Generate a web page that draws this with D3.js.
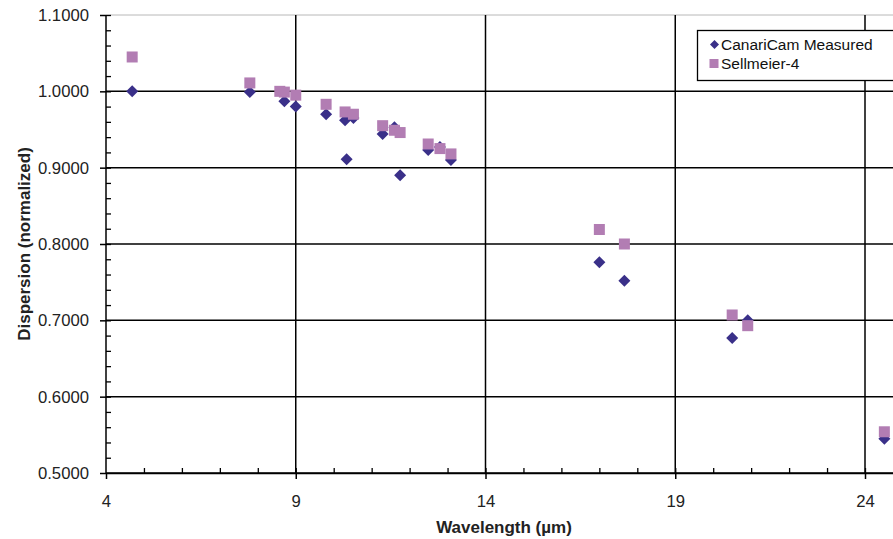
<!DOCTYPE html>
<html>
<head>
<meta charset="utf-8">
<script src="https://cdn.jsdelivr.net/npm/d3@7"></script>
<style>
  body { margin: 0; background: #fff; }
  svg { display: block; font-family: "Liberation Sans", Arial, sans-serif; }
</style>
</head>
<body>
<div id="chart"></div>
<script>
// wavelength (um) and normalized dispersion
const measuredX = [4.69, 7.79, 8.70, 9.00, 9.80, 10.30, 10.34, 10.52, 11.29, 11.60, 11.75, 12.49, 12.80, 13.09, 17.00, 17.66, 20.50, 20.91, 24.51];
const measuredY = [1.000, 0.999, 0.987, 0.980, 0.970, 0.962, 0.911, 0.965, 0.944, 0.953, 0.890, 0.923, 0.927, 0.910, 0.776, 0.752, 0.677, 0.700, 0.545];
const sellmeierX = [4.69, 7.79, 8.58, 8.70, 9.00, 9.80, 10.30, 10.52, 11.29, 11.60, 11.75, 12.49, 12.80, 13.09, 17.00, 17.66, 20.50, 20.91, 24.51];
const sellmeierY = [1.045, 1.011, 1.000, 0.999, 0.995, 0.983, 0.973, 0.970, 0.955, 0.949, 0.946, 0.931, 0.925, 0.918, 0.819, 0.800, 0.707, 0.693, 0.554];
const seriesNames = ["CanariCam Measured", "Sellmeier-4"];
const xTicks = [4, 9, 14, 19, 24];
const yTicks = [0.5, 0.6, 0.7, 0.8, 0.9, 1.0, 1.1];

const width = 893, height = 539;
const margins = {top: 15, left: 106, bottom: 66};

const svg = d3.select("#chart")
  .append("svg")
  .attr("width", width)
  .attr("height", height);

// plot area runs past the right edge of the picture
const xScale = d3.scaleLinear()
  .domain([4, 25])
  .range([margins.left, margins.left + 21 * 37.95]);

const yScale = d3.scaleLinear()
  .domain([0.5, 1.1])
  .range([height - margins.bottom, margins.top]);

const y0 = yScale(0.5), y1 = yScale(1.1);

// horizontal grid
svg.append("g")
  .selectAll("line")
  .data(yTicks)
  .join("line")
    .attr("x1", margins.left)
    .attr("x2", width)
    .attr("y1", d => yScale(d))
    .attr("y2", d => yScale(d))
    .style("stroke", d => d === 1.1 ? "#b8b8b8" : "#000")
    .style("stroke-width", d => d === 1.1 ? 1 : 1.5);

// vertical grid
svg.append("g")
  .selectAll("line")
  .data(xTicks.filter(d => d > 4))
  .join("line")
    .attr("x1", d => xScale(d))
    .attr("x2", d => xScale(d))
    .attr("y1", y1)
    .attr("y2", y0)
    .style("stroke", "#000")
    .style("stroke-width", 1.5);

// minor ticks (inside)
svg.append("g")
  .attr("transform", `translate(0,${y0})`)
  .call(d3.axisBottom(xScale).tickValues(d3.range(5, 25)).tickSize(-5).tickFormat(""))
  .call(g => g.select(".domain").remove())
  .call(g => g.selectAll("line").style("stroke-width", 1.3));

svg.append("g")
  .attr("transform", `translate(${margins.left},0)`)
  .call(d3.axisLeft(yScale).tickValues(d3.range(0.52, 1.1, 0.02)).tickSize(-5).tickFormat(""))
  .call(g => g.select(".domain").remove())
  .call(g => g.selectAll("line").style("stroke-width", 1.3));

// major axes
const xAxis = svg.append("g")
  .attr("transform", `translate(0,${y0})`)
  .call(d3.axisBottom(xScale).tickValues(xTicks).tickSize(6).tickSizeOuter(0).tickPadding(16));

const yAxis = svg.append("g")
  .attr("transform", `translate(${margins.left},0)`)
  .call(d3.axisLeft(yScale).tickValues(yTicks).tickSize(6).tickSizeOuter(0).tickPadding(11).tickFormat(d3.format(".4f")));

[xAxis, yAxis].forEach(g => {
  g.select(".domain").style("stroke", "#000").style("stroke-width", 1.5);
  g.selectAll(".tick line").style("stroke", "#000").style("stroke-width", 1.5);
  g.selectAll(".tick text")
    .style("font-size", "16.7px")
    .style("font-family", "Liberation Sans, Arial, sans-serif")
    .style("fill", "#222");
});
yAxis.select(".domain").attr("d", `M0,${y0}V${y1}`);

// points
const measured = measuredX.map((x, i) => ({x: x, y: measuredY[i]}));
const sellmeier = sellmeierX.map((x, i) => ({x: x, y: sellmeierY[i]}));

const diamond = "M0,-6L6,0L0,6L-6,0Z";

svg.append("g")
  .selectAll("path")
  .data(measured)
  .join("path")
    .attr("d", diamond)
    .attr("transform", d => `translate(${xScale(d.x)},${yScale(d.y)})`)
    .style("fill", "#3a3089");

svg.append("g")
  .selectAll("rect")
  .data(sellmeier)
  .join("rect")
    .attr("x", d => xScale(d.x) - 5.5)
    .attr("y", d => yScale(d.y) - 5.5)
    .attr("width", 11)
    .attr("height", 11)
    .style("fill", "#b27db3");

// legend
const legend = svg.append("g").attr("transform", "translate(697.5,30.5)");
legend.append("rect")
  .attr("width", 210)
  .attr("height", 50)
  .style("fill", "#fff")
  .style("stroke", "#000")
  .style("stroke-width", 1.3);

legend.append("path")
  .attr("d", "M0,-4.5L4.5,0L0,4.5L-4.5,0Z")
  .attr("transform", "translate(17,14)")
  .style("fill", "#3a3089");
legend.append("rect")
  .attr("x", 12).attr("y", 28.5)
  .attr("width", 9).attr("height", 9)
  .style("fill", "#b27db3");

legend.selectAll("text")
  .data(seriesNames)
  .join("text")
    .attr("x", 23.5)
    .attr("y", (d, i) => 14 + i * 19)
    .attr("dy", "0.35em")
    .style("font-size", "15.5px")
    .style("fill", "#111")
    .text(d => d);

// axis titles
svg.append("text")
  .attr("x", 504)
  .attr("y", 533)
  .attr("text-anchor", "middle")
  .style("font-size", "17px")
  .style("font-weight", "bold")
  .style("fill", "#222")
  .text("Wavelength (\u00b5m)");

svg.append("text")
  .attr("transform", `translate(29.5,${(y0 + y1) / 2}) rotate(-90)`)
  .attr("text-anchor", "middle")
  .style("font-size", "17px")
  .style("font-weight", "bold")
  .style("fill", "#222")
  .text("Dispersion (normalized)");
</script>
</body>
</html>
